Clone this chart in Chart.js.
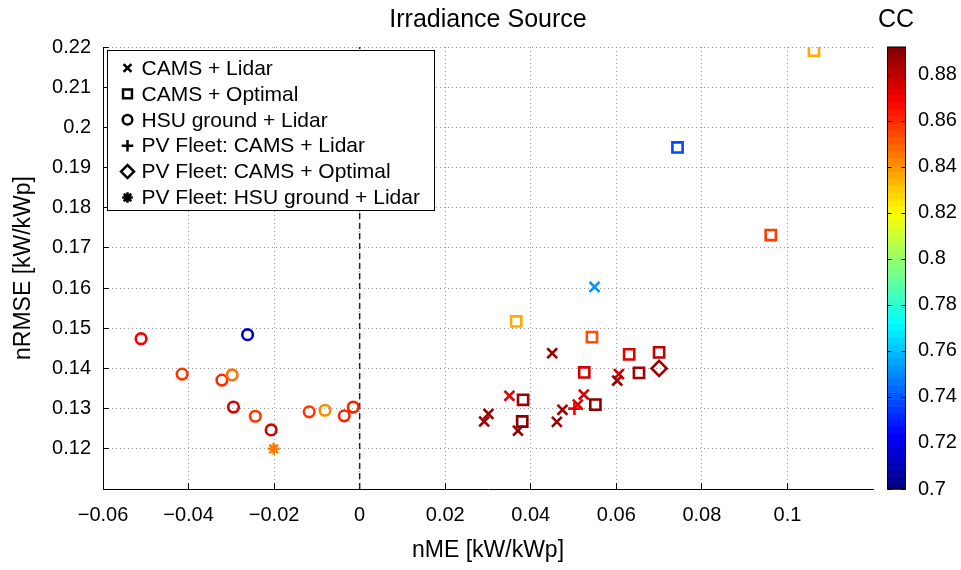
<!DOCTYPE html>
<html lang="en">
<head>
<meta charset="UTF-8">
<title>Irradiance Source</title>
<script src="https://cdn.jsdelivr.net/npm/chart.js@4.4.0/dist/chart.umd.min.js"></script>
<style>
  body { margin: 0; background: #fff; }
</style>
</head>
<body>
<canvas id="chart" width="961" height="570"></canvas>
<script>
// nME (x), nRMSE (y) and CC (colour) for every irradiance source
const camsLidarX  = [0.0549, 0.0450, 0.0606, 0.0602, 0.0350, 0.0524, 0.0510, 0.0474, 0.0461, 0.0301, 0.0291, 0.0370];
const camsLidarY  = [0.1603, 0.1438, 0.1386, 0.1370, 0.1332, 0.1335, 0.1310, 0.1297, 0.1267, 0.1287, 0.1268, 0.1245];
const camsLidarCC = [0.752, 0.886, 0.878, 0.886, 0.874, 0.876, 0.875, 0.886, 0.887, 0.887, 0.887, 0.888];

const camsOptX  = [0.1062, 0.0743, 0.0961, 0.0366, 0.0543, 0.0630, 0.0700, 0.0653, 0.0525, 0.0382, 0.0551, 0.0380];
const camsOptY  = [0.2191, 0.1950, 0.1732, 0.1517, 0.1478, 0.1435, 0.1440, 0.1389, 0.1390, 0.1322, 0.1310, 0.1268];
const camsOptCC = [0.836, 0.738, 0.857, 0.836, 0.853, 0.874, 0.880, 0.886, 0.877, 0.886, 0.890, 0.890];

const hsuLidarX  = [-0.0511, -0.0262, -0.0415, -0.0322, -0.0298, -0.0295, -0.0244, -0.0207, -0.0118, -0.0081, -0.0036, -0.0015];
const hsuLidarY  = [0.1474, 0.1484, 0.1386, 0.1371, 0.1384, 0.1304, 0.1281, 0.1247, 0.1292, 0.1296, 0.1282, 0.1304];
const hsuLidarCC = [0.870, 0.712, 0.858, 0.860, 0.847, 0.875, 0.858, 0.876, 0.858, 0.842, 0.862, 0.862];

const fleetCamsLidarX = [0.0502], fleetCamsLidarY = [0.1300], fleetCamsLidarCC = [0.868];
const fleetCamsOptX   = [0.0700], fleetCamsOptY   = [0.1400], fleetCamsOptCC   = [0.886];
const fleetHsuLidarX  = [-0.0201], fleetHsuLidarY = [0.1200], fleetHsuLidarCC  = [0.845];

const labels = ['CAMS + Lidar', 'CAMS + Optimal', 'HSU ground + Lidar',
  'PV Fleet: CAMS + Lidar', 'PV Fleet: CAMS + Optimal', 'PV Fleet: HSU ground + Lidar'];

const xTicks  = [-0.06, -0.04, -0.02, 0, 0.02, 0.04, 0.06, 0.08, 0.1];
const yTicks  = [0.12, 0.13, 0.14, 0.15, 0.16, 0.17, 0.18, 0.19, 0.2, 0.21, 0.22];
const ccTicks = [0.7, 0.72, 0.74, 0.76, 0.78, 0.8, 0.82, 0.84, 0.86, 0.88];
const ccMin = 0.7, ccMax = 0.892;

const FONT = "'Liberation Sans', Arial, sans-serif";
Chart.defaults.font.family = FONT;
Chart.defaults.color = '#000';

// matlab jet colormap
function jet(v) {
  let t = (v - ccMin) / (ccMax - ccMin);
  t = Math.max(0, Math.min(1, t));
  const c = k => Math.round(255 * Math.max(0, Math.min(1, 1.5 - Math.abs(4 * t - k))));
  return 'rgb(' + c(3) + ',' + c(2) + ',' + c(1) + ')';
}

function fmt(v) {
  return String(+v.toFixed(3)).replace('-', '\u2212');
}

function series(label, xs, ys, cs, style, r) {
  return {
    label: label,
    data: xs.map((x, i) => ({x: x, y: ys[i]})),
    pointStyle: style,
    pointRadius: r,
    pointBorderWidth: 2.6,
    pointBorderColor: cs.map(jet),
    pointBackgroundColor: 'rgba(0,0,0,0)',
    showLine: false
  };
}

const datasets = [
  series(labels[0], camsLidarX, camsLidarY, camsLidarCC, 'crossRot', 7),
  series(labels[1], camsOptX, camsOptY, camsOptCC, 'rect', 7.2),
  series(labels[2], hsuLidarX, hsuLidarY, hsuLidarCC, 'circle', 5.3),
  series(labels[3], fleetCamsLidarX, fleetCamsLidarY, fleetCamsLidarCC, 'cross', 6.3),
  series(labels[4], fleetCamsOptX, fleetCamsOptY, fleetCamsOptCC, 'rectRot', 7.5),
  series(labels[5], fleetHsuLidarX, fleetHsuLidarY, fleetHsuLidarCC, 'star', 6),
  {
    label: 'zero',
    data: [{x: 0, y: 0.11}, {x: 0, y: 0.22}],
    showLine: true,
    borderColor: '#222',
    borderWidth: 1.5,
    borderDash: [6, 4],
    pointRadius: 0,
    order: 10
  }
];

// legend marker sizes (black markers)
const legendRadius = [5.5, 6.3, 4.8, 5.8, 6.5, 5.3];

const decor = {
  id: 'decor',
  afterDraw(chart) {
    const ctx = chart.ctx;
    const area = chart.chartArea;
    const cc = chart.scales.cc;
    ctx.save();

    // title
    ctx.fillStyle = '#000';
    ctx.font = '25px ' + FONT;
    ctx.textAlign = 'center';
    ctx.textBaseline = 'middle';
    ctx.fillText('Irradiance Source', (area.left + area.right) / 2, 20);
    ctx.fillText('CC', 896, 20);

    // colorbar
    const x0 = 887.5, w = 18;
    const n = 64;
    for (let i = 0; i < n; i++) {
      const v0 = ccMin + (ccMax - ccMin) * i / n;
      const v1 = ccMin + (ccMax - ccMin) * (i + 1) / n;
      const ya = cc.getPixelForValue(v0), yb = cc.getPixelForValue(v1);
      ctx.fillStyle = jet((v0 + v1) / 2);
      ctx.fillRect(x0, yb, w, ya - yb + 0.6);
    }
    const yTop = cc.getPixelForValue(ccMax), yBot = cc.getPixelForValue(ccMin);
    ctx.strokeStyle = '#000';
    ctx.lineWidth = 1;
    ctx.strokeRect(x0, yTop, w, yBot - yTop);
    ccTicks.forEach(v => {
      const y = Math.round(cc.getPixelForValue(v)) + 0.5;
      ctx.beginPath();
      ctx.moveTo(x0, y); ctx.lineTo(x0 + 4, y);
      ctx.moveTo(x0 + w - 4, y); ctx.lineTo(x0 + w, y);
      ctx.stroke();
    });

    // legend box
    const lx = area.left + 4.5, ly = area.top + 3.5, lw = 327, lh = 160;
    ctx.fillStyle = '#fff';
    ctx.fillRect(lx, ly, lw, lh);
    ctx.strokeRect(lx, ly, lw, lh);
    ctx.font = '21px ' + FONT;
    ctx.textAlign = 'left';
    chart.data.datasets.slice(0, 6).forEach((ds, i) => {
      const cy = ly + 17.5 + i * 25.9;
      ctx.fillStyle = 'rgba(0,0,0,0)';
      ctx.strokeStyle = '#000';
      ctx.lineWidth = 2.5;
      Chart.helpers.drawPoint(ctx, {pointStyle: ds.pointStyle, rotation: 0, radius: legendRadius[i], borderWidth: 2.5}, lx + 20, cy);
      ctx.fillStyle = '#000';
      ctx.fillText(ds.label, lx + 34, cy + 1);
    });
    ctx.restore();
  }
};

const gridOpts = {color: '#9a9a9a', tickColor: '#000', tickLength: -6, lineWidth: 1};
const borderOpts = {color: '#000', width: 1, dash: [1, 3]};

// vertical axes: keep the tick padding from growing the chart margins
function noPad(s, width) {
  s.width = width;
  s.paddingTop = 0;
  s.paddingBottom = 0;
}

new Chart(document.getElementById('chart'), {
  type: 'scatter',
  data: {datasets: datasets},
  plugins: [decor],
  options: {
    responsive: false,
    animation: false,
    devicePixelRatio: 1,
    events: [],
    layout: {padding: {top: 47, left: 0, right: 0, bottom: 0}},
    plugins: {legend: {display: false}, title: {display: false}, tooltip: {enabled: false}},
    scales: {
      x: {
        type: 'linear', position: 'bottom', min: -0.06, max: 0.12,
        afterBuildTicks: s => { s.ticks = xTicks.map(v => ({value: v})); },
        afterFit: s => { s.height = 81; s.paddingLeft = 0; s.paddingRight = 0; },
        grid: gridOpts,
        border: borderOpts,
        ticks: {padding: 20, font: {size: 20}, color: '#000', autoSkip: false, maxRotation: 0, callback: v => fmt(v)},
        title: {display: true, text: 'nME [kW/kWp]', font: {size: 23}, color: '#000', padding: {top: 0, bottom: 6}}
      },
      y: {
        type: 'linear', position: 'left', min: 0.11, max: 0.22,
        afterBuildTicks: s => { s.ticks = yTicks.map(v => ({value: v})); },
        afterFit: s => noPad(s, 103),
        grid: gridOpts,
        border: borderOpts,
        ticks: {padding: 18, font: {size: 20}, color: '#000', autoSkip: false, callback: v => fmt(v)},
        title: {display: true, text: 'nRMSE [kW/kWp]', font: {size: 23}, color: '#000', padding: {top: 10, bottom: 0}}
      },
      cc: {
        type: 'linear', position: 'right', min: ccMin, max: ccMax,
        afterBuildTicks: s => { s.ticks = ccTicks.map(v => ({value: v})); },
        afterFit: s => noPad(s, 88),
        grid: {display: false, drawTicks: false, drawOnChartArea: false},
        border: {display: false},
        ticks: {padding: 45, font: {size: 20}, color: '#000', autoSkip: false, callback: v => fmt(v)}
      }
    }
  }
});
</script>
</body>
</html>
